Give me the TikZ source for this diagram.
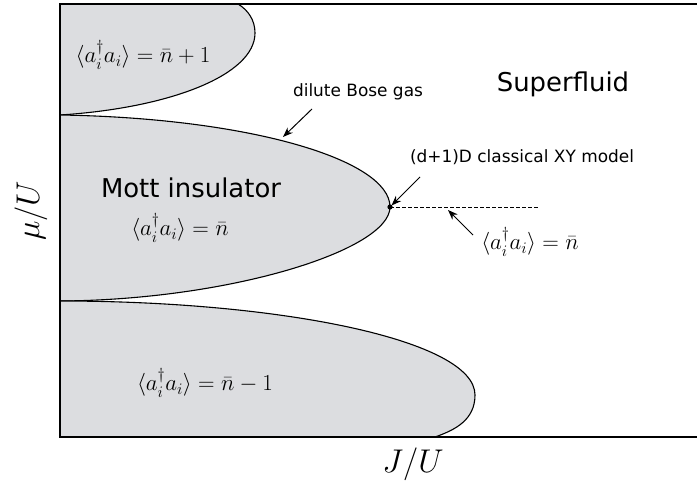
\documentclass[tikz,border=0pt]{standalone}
\usepackage{fix-cm}
\usepackage{amsmath, amssymb}
\usepackage{fontspec}
\setsansfont{DejaVu Sans}
\usepackage{tikz}
\usetikzlibrary{calc, arrows.meta}
\usepackage{tkz-euclide}

\definecolor{lobegray}{RGB}{220,221,224}

\begin{document}
\begin{tikzpicture}[x=1bp, y=-1bp,
    lobe/.style={fill=lobegray, draw=black, line width=1.1pt},
    sflabel/.style={font=\sffamily\fontsize{17}{20}\selectfont, anchor=base},
    biglabel/.style={font=\sffamily\fontsize{26}{30}\selectfont, anchor=base},
    occlabel/.style={font=\fontsize{23}{28}\selectfont, inner sep=0pt},
    axlabel/.style={font=\fontsize{33}{40}\selectfont, inner sep=0pt},
    pointer/.style={-{Stealth[length=10bp, width=7.5bp]}, line width=1pt}]
                \useasboundingbox (0,0) rectangle (697,483);
                \tkzDefPoint(60,4){TL}
                \tkzDefPoint(697,4){TR}
                \tkzDefPoint(60,437){BL}
                \tkzDefPoint(697,437){BR}
                \tkzDefPoint(60,115){P}
                \tkzDefPoint(60,301){Q}
                \tkzDefPoint(390,207){X}
                \tkzDefPoint(538,207){Y}
                \filldraw[lobe] (TL) -- (238,4) .. controls (248,10) and (255,20) .. (255,33)
                    .. controls (255,75) and (170,108) .. (P) -- cycle;
                \filldraw[lobe] (P) .. controls (250,118) and (390,160) .. (X)
                    .. controls (390,250) and (230,300) .. (Q) -- cycle;
                \filldraw[lobe] (Q) .. controls (280,301) and (475,340) .. (475,395)
                    .. controls (475,420) and (455,430) .. (435,437) -- (BL) -- cycle;
                \draw[line width=1.5pt] (TR) -- (TL) -- (BL) -- (BR);
                \draw[dashed, dash pattern=on 3.5bp off 2.5bp, line width=1pt] (X) -- (Y);
                \fill (X) circle (2.6bp);
                \node[biglabel] (sf) at (563,92) {Superfluid};
                \node[biglabel] (mott) at (191,198) {Mott insulator};
                \node[sflabel] (gas) at (358,97) {dilute Bose gas};
                \node[sflabel] (xy) at (522,163) {(d+1)D classical XY model};
                \node[occlabel] (occup) at (143,55) {$\langle a_i^\dagger a_i\rangle=\bar n+1$};
                \node[occlabel] (occmid) at (180,228) {$\langle a_i^\dagger a_i\rangle=\bar n$};
                \node[occlabel] (occlow) at (205,383) {$\langle a_i^\dagger a_i\rangle=\bar n-1$};
                \node[occlabel] (occline) at (530,242) {$\langle a_i^\dagger a_i\rangle=\bar n$};
                \node[axlabel, rotate=90] (muU) at (31,211) {$\mu/U$};
                \node[axlabel] (JU) at (413,464) {$J/U$};
                \coordinate (gasfoot) at (312,109);
                \coordinate (gashead) at (283,137);
                \coordinate (xyfoot) at (420,177);
                \coordinate (linefoot) at (473,235);
                \coordinate (linehead) at (448,210);
                \draw[pointer] (gasfoot) -- (gashead);
                \draw[pointer] (xyfoot) -- ($(X)+(1.5,-1.5)$);
                \draw[pointer] (linefoot) -- (linehead);
            \end{tikzpicture}
\end{document}
